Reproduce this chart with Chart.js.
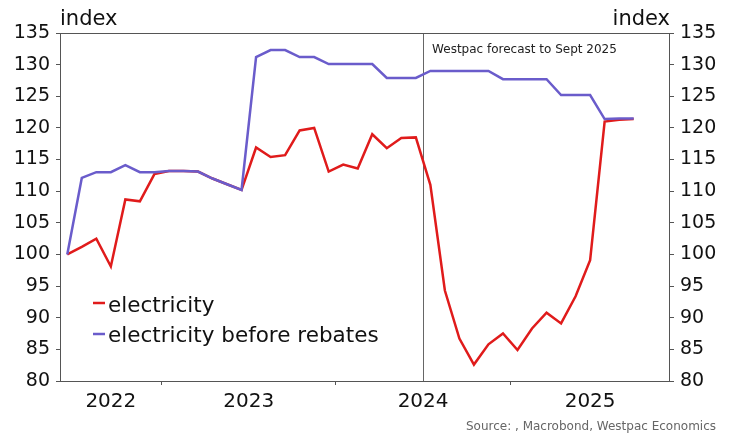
<!DOCTYPE html>
<html>
<head>
<meta charset="utf-8">
<script src="https://cdn.jsdelivr.net/npm/chart.js@4.4.1/dist/chart.umd.min.js"></script>
<style>
  html, body { margin: 0; padding: 0; background: #fff; }
  #wrap { width: 734px; height: 436px; position: relative; }
</style>
</head>
<body>
<div id="wrap"><canvas id="elecChart" width="734" height="436"></canvas></div>
<script>
// monthly, Jun 2022 .. Sep 2025 (actual to Jun 2024, Westpac forecast after)
const months = ['Jun22','Jul22','Aug22','Sep22','Oct22','Nov22','Dec22',
  'Jan23','Feb23','Mar23','Apr23','May23','Jun23','Jul23','Aug23','Sep23','Oct23','Nov23','Dec23',
  'Jan24','Feb24','Mar24','Apr24','May24','Jun24','Jul24','Aug24','Sep24','Oct24','Nov24','Dec24',
  'Jan25','Feb25','Mar25','Apr25','May25','Jun25','Jul25','Aug25','Sep25'];
const electricity = [100, 101.2, 102.5, 98.1, 108.7, 108.4, 112.7,
  113.2, 113.2, 113.1, 112.0, 111.1, 110.2, 116.9, 115.4, 115.7, 119.6, 120.0, 113.1,
  114.2, 113.6, 119.0, 116.8, 118.4, 118.5, 111.0, 94.3, 86.7, 82.6, 85.8, 87.5,
  84.9, 88.3, 90.8, 89.1, 93.4, 99.1, 121.0, 121.3, 121.4];
const beforeRebates = [100, 112.1, 113.0, 113.0, 114.1, 113.0, 113.0,
  113.2, 113.2, 113.1, 112.0, 111.1, 110.2, 131.2, 132.3, 132.3, 131.2, 131.2, 130.1,
  130.1, 130.1, 130.1, 127.9, 127.9, 127.9, 129.0, 129.0, 129.0, 129.0, 129.0, 127.7,
  127.7, 127.7, 127.7, 125.2, 125.2, 125.2, 121.4, 121.5, 121.5];
const yearLabels = ['2022', '2023', '2024', '2025'];
const yearStarts = [7, 19, 31];          // month index of Jan 2023/24/25
const yearCentres = [3.5, 13, 25, 36.5]; // middle of visible part of each year
const forecastStart = 25;                // Jul 2024
const xMax = 42;

const RED = '#e01b1b';
const PURPLE = '#6a5ccb';
const FONT = '"DejaVu Sans", sans-serif';

function toPoints(arr) {
  return arr.map((v, i) => ({ x: i + 0.5, y: v }));
}

// frame, forecast line and the loose texts
const extras = {
  id: 'extras',
  beforeDatasetsDraw(chart) {
    const { ctx, chartArea: a, scales } = chart;
    ctx.save();
    ctx.strokeStyle = '#666';
    ctx.lineWidth = 1;
    const fx = Math.round(scales.x.getPixelForValue(forecastStart)) + 0.5;
    ctx.beginPath();
    ctx.moveTo(fx, a.top);
    ctx.lineTo(fx, a.bottom);
    ctx.stroke();
    ctx.restore();
  },
  afterDraw(chart) {
    const { ctx, chartArea: a, scales } = chart;
    ctx.save();
    ctx.strokeStyle = '#555';
    ctx.lineWidth = 1;
    ctx.strokeRect(Math.round(a.left) + 0.5, Math.round(a.top) + 0.5,
      Math.round(a.right - a.left) - 1, Math.round(a.bottom - a.top));

    ctx.fillStyle = '#111';
    ctx.font = '21px ' + FONT;
    ctx.textBaseline = 'alphabetic';
    ctx.textAlign = 'left';
    ctx.fillText('index', a.left, 25);
    ctx.textAlign = 'right';
    ctx.fillText('index', a.right, 25);

    // legend inside the plot
    ctx.font = '21.5px ' + FONT;
    const items = [['electricity', RED, 303, 312], ['electricity before rebates', PURPLE, 334, 342]];
    ctx.textAlign = 'left';
    items.forEach(([txt, col, y, base]) => {
      ctx.strokeStyle = col;
      ctx.lineWidth = 2.5;
      ctx.beginPath();
      ctx.moveTo(93, y);
      ctx.lineTo(105, y);
      ctx.stroke();
      ctx.fillStyle = '#111';
      ctx.fillText(txt, 108, base);
    });

    ctx.font = '12px ' + FONT;
    ctx.fillStyle = '#222';
    ctx.textBaseline = 'middle';
    const fx = scales.x.getPixelForValue(forecastStart);
    ctx.fillText('Westpac forecast to Sept 2025', fx + 9, 50);

    ctx.fillStyle = '#666';
    ctx.textAlign = 'right';
    ctx.fillText('Source: , Macrobond, Westpac Economics', 716, 427);
    ctx.restore();
  }
};

const ctx = document.getElementById('elecChart').getContext('2d');
new Chart(ctx, {
  type: 'line',
  data: {
    datasets: [
      {
        label: 'electricity',
        data: toPoints(electricity),
        borderColor: RED,
        borderWidth: 2.5,
        pointRadius: 0,
        tension: 0,
        order: 1
      },
      {
        label: 'electricity before rebates',
        data: toPoints(beforeRebates),
        borderColor: PURPLE,
        borderWidth: 2.5,
        pointRadius: 0,
        tension: 0,
        order: 0
      }
    ]
  },
  options: {
    responsive: false,
    animation: false,
    layout: { padding: { top: 33, left: 0, right: 0, bottom: 0 } },
    plugins: {
      legend: { display: false },
      tooltip: { enabled: false }
    },
    scales: {
      x: {
        type: 'linear',
        min: 0,
        max: xMax,
        afterFit(scale) { scale.height = 55; },
        afterBuildTicks(scale) {
          scale.ticks = yearStarts.concat(yearCentres).sort((a, b) => a - b).map(v => ({ value: v }));
        },
        border: { display: false },
        grid: {
          drawOnChartArea: false,
          tickLength: 4,
          tickColor: (c) => (c.tick && yearStarts.includes(c.tick.value)) ? '#555' : 'rgba(0,0,0,0)'
        },
        ticks: {
          autoSkip: false,
          maxRotation: 0,
          padding: 5,
          color: '#111',
          font: { family: FONT, size: 20 },
          callback: (v) => {
            const i = yearCentres.indexOf(v);
            return i >= 0 ? yearLabels[i] : '';
          }
        }
      },
      y: {
        position: 'left',
        min: 80,
        max: 135,
        afterFit(scale) { scale.width = 60; },
        border: { display: false },
        grid: { drawOnChartArea: false, tickLength: 4, tickColor: '#555' },
        ticks: {
          stepSize: 5,
          padding: 6,
          color: '#111',
          font: { family: FONT, size: 19 }
        }
      },
      y2: {
        position: 'right',
        min: 80,
        max: 135,
        afterFit(scale) { scale.width = 64; },
        border: { display: false },
        grid: { drawOnChartArea: false, tickLength: 4, tickColor: '#555' },
        ticks: {
          stepSize: 5,
          padding: 6,
          color: '#111',
          font: { family: FONT, size: 19 }
        }
      }
    }
  },
  plugins: [extras]
});
</script>
</body>
</html>
